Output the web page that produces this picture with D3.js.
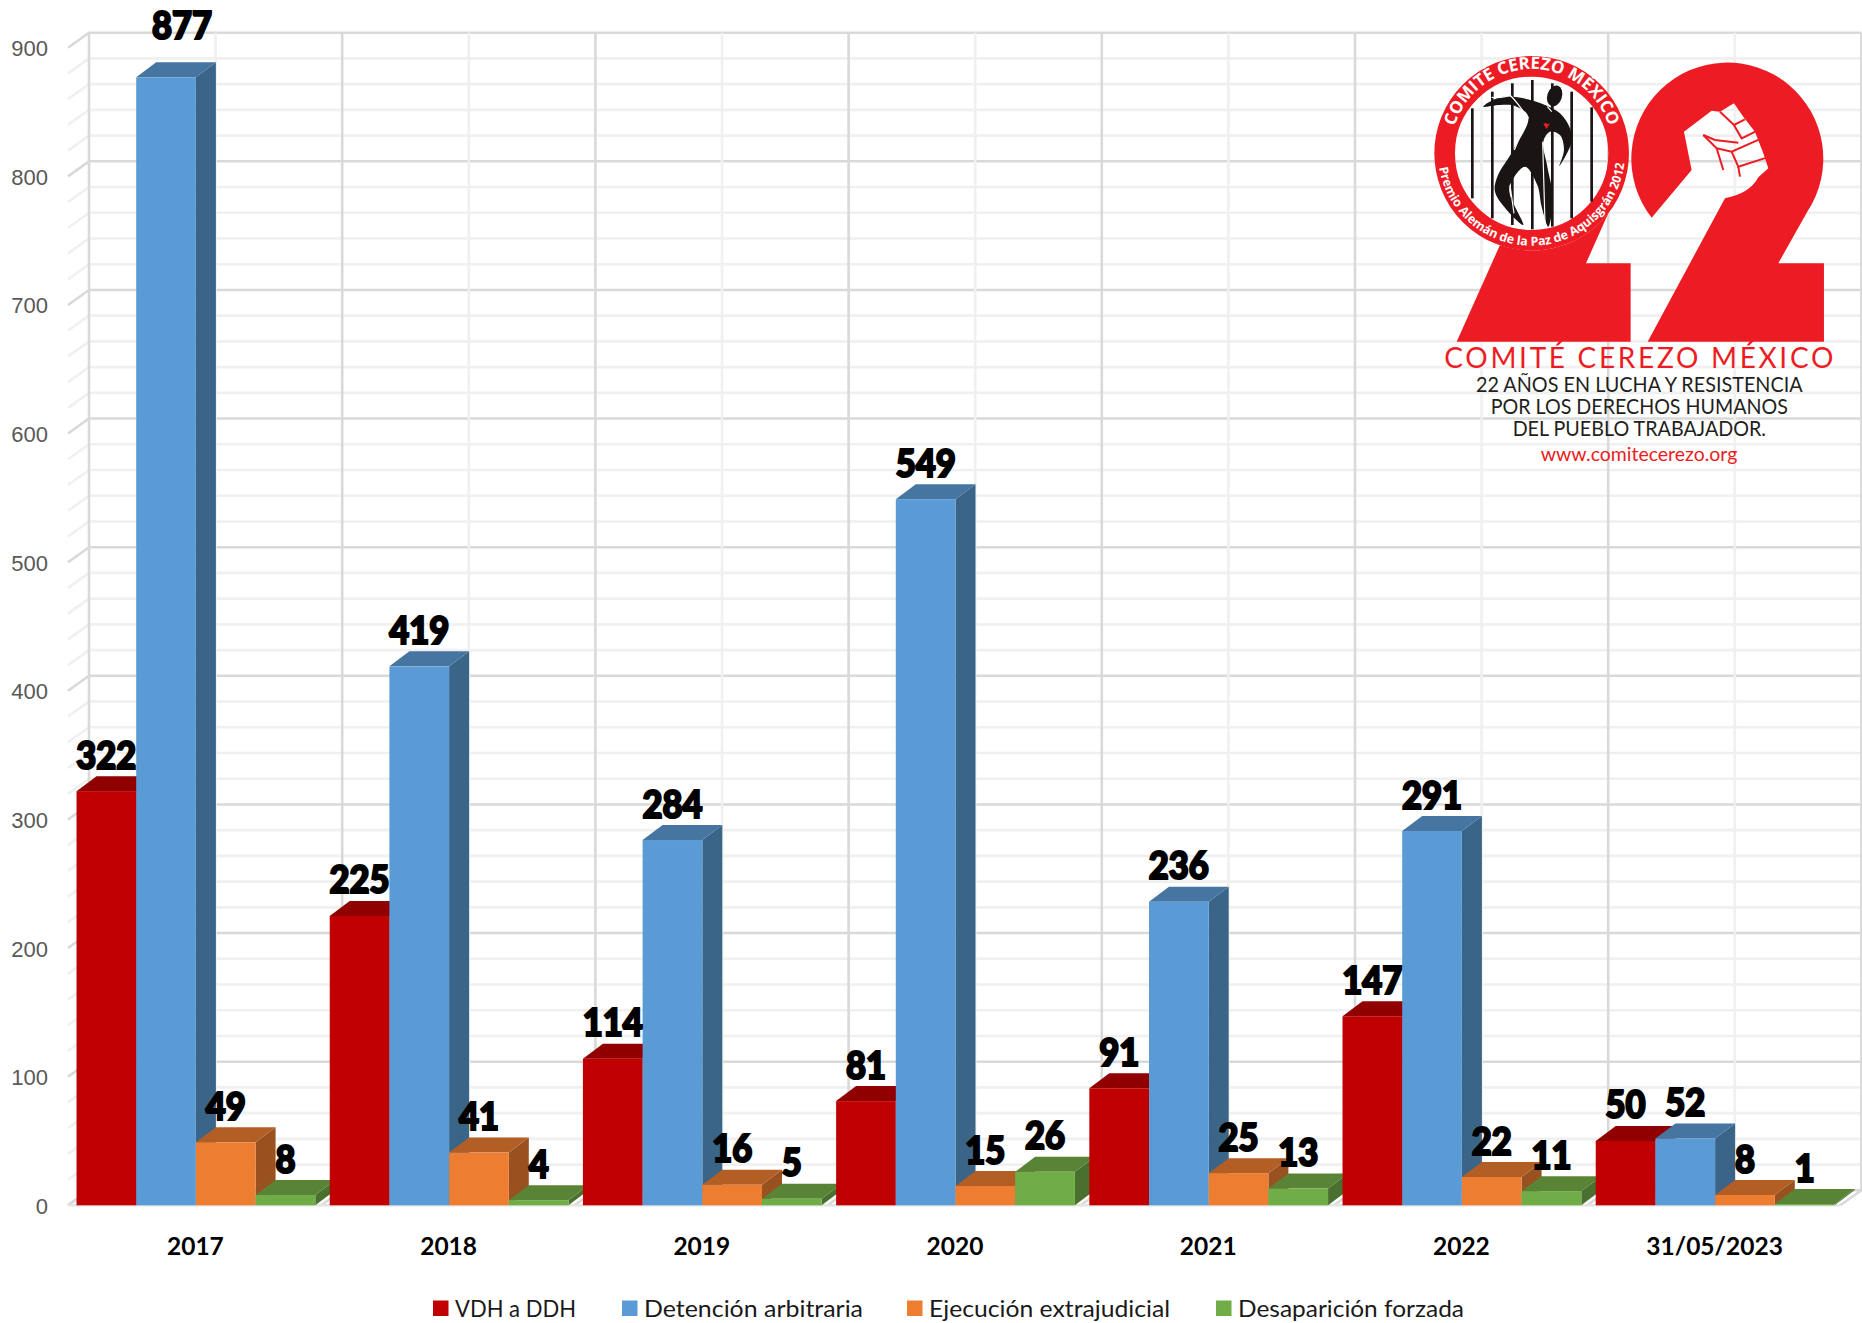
<!DOCTYPE html>
<html>
<head>
<meta charset="utf-8">
<script src="https://cdn.jsdelivr.net/npm/d3@7"></script>
<style>
  body { margin: 0; background: #fff; }
  svg { display: block; }
</style>
</head>
<body>
<div id="chart"></div>
<script>
const categories = ["2017", "2018", "2019", "2020", "2021", "2022", "31/05/2023"];
const seriesNames = ["VDH a DDH", "Detención arbitraria", "Ejecución extrajudicial", "Desaparición forzada"];
const vdh = [322, 225, 114, 81, 91, 147, 50];
const detencion = [877, 419, 284, 549, 236, 291, 52];
const ejecucion = [49, 41, 16, 15, 25, 22, 8];
const desaparicion = [8, 4, 5, 26, 13, 11, 1];
const yTicks = [0, 100, 200, 300, 400, 500, 600, 700, 800, 900];

const width = 1862, height = 1323;
const depthX = 21, depthY = 15; // fake 3d offset of the back wall
const faces = {
  front: ["#c00000", "#5b9bd5", "#ed7d31", "#70ad47"],
  top: ["#900000", "#4575a0", "#b25e25", "#5a8435"],
  side: ["#900000", "#3a6589", "#9a5120", "#4a7030"]
};

const svg = d3.select("#chart").append("svg")
  .attr("width", width)
  .attr("height", height)
  .style("font-family", "Lato, 'Noto Sans', sans-serif");

const x0 = d3.scaleBand().domain(categories).range([69.3, 1841.7]).paddingInner(0.057).paddingOuter(0.0285);
const x1 = d3.scaleBand().domain(d3.range(4)).range([0, x0.bandwidth()]);
const y = d3.scaleLinear().domain([0, 900]).range([1205.3, 47.7]);

// back wall
const wall = svg.append("g").attr("fill", "none").attr("stroke-width", 2.6);
const grid = d3.range(0, 901, 20);
const wallLeft = 68 + depthX, wallRight = 1840.4 + depthX;
const wallLine = v => v % 100 === 0 ? "#d9d9d9" : "#f0f0f0";

wall.selectAll(".hgrid").data(grid).enter().append("path")
  .attr("class", "hgrid")
  .attr("stroke", wallLine)
  .attr("d", v => `M${wallLeft - depthX},${y(v)}L${wallLeft},${y(v) - depthY}L${wallRight},${y(v) - depthY}`);

const step = x0.step();
const verticals = d3.range(0, 15).map(i => i);
wall.selectAll(".vgrid").data(verticals).enter().append("path")
  .attr("class", "vgrid")
  .attr("stroke", i => i % 2 ? "#f0f0f0" : "#d9d9d9")
  .attr("d", i => {
    const xx = wallLeft + i * step / 2;
    return `M${xx},${y(900) - depthY}V${y(0) - depthY}` + (i % 2 ? "" : `L${xx - depthX},${y(0)}`);
  });

wall.append("path").attr("stroke", "#e4e4e4")
  .attr("d", `M${wallLeft - depthX},${y(0)}H${wallRight - depthX}`);

// y axis
const yAxis = svg.append("g")
  .attr("transform", "translate(48,1)")
  .call(d3.axisLeft(y).tickValues(yTicks).tickSize(0).tickPadding(0));
yAxis.select(".domain").remove();
yAxis.selectAll("text").attr("fill", "#595959").style("font-size", "22px");

// bars
const allSeries = [vdh, detencion, ejecucion, desaparicion];
const barData = categories.flatMap((c, g) => allSeries.map((s, i) => ({ c, i, v: s[g] })));
const bars = svg.selectAll(".bar").data(barData).enter().append("g").attr("class", "bar")
  .attr("transform", d => `translate(${x0(d.c) + x1(d.i)},0)`);
const bw = x1.bandwidth();

bars.append("path")
  .attr("fill", d => faces.side[d.i])
  .attr("d", d => `M${bw},${y(d.v)}l${depthX - 1},${-depthY}V${y(0) - depthY}L${bw},${y(0)}Z`);
bars.append("path")
  .attr("fill", d => faces.top[d.i])
  .attr("d", d => `M0,${y(d.v)}l${depthX - 1},${-depthY}h${bw}l${-depthX + 1},${depthY}Z`);
bars.append("rect")
  .attr("width", bw)
  .attr("y", d => y(d.v))
  .attr("height", d => y(0) - y(d.v))
  .attr("fill", d => faces.front[d.i]);

// value labels, the 877 one sits moved off its bar in the original
const labelLayer = svg.append("g");
labelLayer.selectAll("text").data(barData).enter().append("text")
  .attr("x", d => x0(d.c) + x1(d.i) + bw / 2 + (d.v === 877 ? 16 : 0))
  .attr("y", d => y(d.v) - 22.5 - (d.v === 877 ? 16 : 0))
  .attr("text-anchor", "middle")
  .attr("fill", "#000")
  .attr("stroke", "#000")
  .attr("stroke-width", 2.2)
  .attr("textLength", d => String(d.v).length * 20)
  .attr("lengthAdjust", "spacingAndGlyphs")
  .style("font-size", "38px")
  .style("font-weight", 900)
  .text(d => d.v);

// category labels
svg.append("g").selectAll("text").data(categories).enter().append("text")
  .attr("x", d => x0(d) + x0.bandwidth() / 2 - 0.5)
  .attr("y", 1254.5)
  .attr("text-anchor", "middle")
  .attr("fill", "#000")
  .style("font-size", "24.5px")
  .style("font-weight", 700)
  .text(d => d);

// legend
const legendX = [433, 622, 907, 1216];
const legendW = [121, 219, 241, 226];
const legend = svg.append("g").selectAll("g").data(seriesNames).enter().append("g")
  .attr("transform", (d, i) => `translate(${legendX[i]},1300.5)`);
legend.append("rect").attr("width", 15.5).attr("height", 15.5).attr("fill", (d, i) => faces.front[i]);
legend.append("text")
  .attr("x", 22)
  .attr("y", 16.5)
  .attr("fill", "#1a1a1a")
  .attr("textLength", (d, i) => legendW[i])
  .attr("lengthAdjust", "spacingAndGlyphs")
  .style("font-size", "24px")
  .text(d => d);

// logo, drawn in a 3x space
const red = "#ed1c24";
const ink = "#1a1415";
const logo = svg.append("g").attr("transform", "translate(1400,30) scale(0.3333)");
const cx = 395, cy = 370;

logo.append("path").attr("fill", red)
  .attr("d", "M170,935L692,935L692,700L558,700L625,550A290,290 0 0 1 300,645Z");
logo.append("circle").attr("cx", cx).attr("cy", cy).attr("r", 261)
  .attr("fill", "none").attr("stroke", red).attr("stroke-width", 62);

// second 2 with the fist cut out of it
logo.append("path").attr("fill", red)
  .attr("d", "M1272,935L1272,700L1135,700L1222,545A288,288 0 1 0 755,563L875,420L852,305L935,242L960,245L1002,220L1030,260L1065,305L1090,370L1105,415L1075,442Q1050,490 975,505L743,935Z");
logo.append("g").attr("fill", "none").attr("stroke", red).attr("stroke-width", 6)
  .selectAll("path")
  .data([
    "M960,245L1002,285L1035,268",
    "M1002,285L1025,325L1066,305",
    "M910,315L945,330L1015,338",
    "M910,315L950,355L970,420",
    "M950,355L995,365L1085,325",
    "M995,365L1015,410L1100,383",
    "M1015,410L1020,440"
  ])
  .enter().append("path").attr("d", d => d);

// figure behind the bars
const fig = logo.append("g").attr("transform", "translate(180,120)");
const outline = [[70, 110], [120, 82], [190, 85], [255, 105], [300, 130], [330, 175], [335, 215], [298, 288],
  [312, 240], [300, 195], [270, 185], [250, 215], [262, 290], [278, 380], [265, 470], [245, 410], [232, 345],
  [195, 290], [150, 345], [150, 375], [190, 465], [145, 425], [105, 365], [112, 320], [160, 240], [205, 140], [165, 108], [120, 105]];
fig.append("path").attr("fill", ink)
  .attr("d", d3.line().curve(d3.curveCatmullRomClosed.alpha(0.5))(outline));
fig.append("ellipse").attr("cx", 284).attr("cy", 78).attr("rx", 22).attr("ry", 32)
  .attr("transform", "rotate(18 284 78)").attr("fill", ink);
fig.append("path").attr("fill", red).attr("d", "M260,177L250,162L258,158L262,163L270,160Z");
fig.selectAll("rect").data([[37, 115, 385], [97, 65, 445], [157, 40, 465], [217, 30, 478], [277, 40, 470], [335, 65, 445], [395, 112, 395]])
  .enter().append("rect")
  .attr("x", d => d[0] - 4).attr("width", 8)
  .attr("y", d => d[1]).attr("height", d => d[2] - d[1])
  .attr("fill", ink);
// white slits where the bars cross the body
fig.append("g").attr("fill", "none").attr("stroke", "#fff").attr("stroke-width", 3.5)
  .selectAll("path")
  .data(["M95,82Q130,85 150,75", "M150,75Q175,100 200,140", "M205,140L163,240", "M150,345L162,430", "M248,215L255,460", "M262,110L275,125"])
  .enter().append("path").attr("d", d => d);

// ring text
logo.append("path").attr("id", "ringTop").attr("fill", "none")
  .attr("d", `M${cx - 241},${cy - 12}A241,241 0 0 1 ${cx + 241},${cy - 12}`);
logo.append("path").attr("id", "ringBottom").attr("fill", "none")
  .attr("d", `M${cx - 279},${cy + 36}A281,281 0 0 0 ${cx + 279},${cy + 22}`);
logo.append("text").attr("fill", "#fff")
  .style("font-size", "51px").style("font-weight", 700).style("font-family", "'Open Sans', sans-serif")
  .append("textPath").attr("href", "#ringTop").attr("startOffset", "50%").attr("text-anchor", "middle")
  .text("COMITÉ CEREZO MÉXICO");
logo.append("text").attr("fill", "#fff")
  .style("font-size", "37px").style("font-weight", 700).style("font-family", "'Open Sans', sans-serif")
  .append("textPath").attr("href", "#ringBottom").attr("startOffset", "50%").attr("text-anchor", "middle")
  .text("Premio Alemán de la Paz de Aquisgrán 2012");

// lines under the 22
const logoLines = [
  { t: "COMITÉ CEREZO MÉXICO", x: 133, w: 1167, y: 1015, s: 84, c: red },
  { t: "22 AÑOS EN LUCHA Y RESISTENCIA", x: 228, w: 980, y: 1085, s: 63, c: "#231f20" },
  { t: "POR LOS DERECHOS HUMANOS", x: 272, w: 892, y: 1152, s: 63, c: "#231f20" },
  { t: "DEL PUEBLO TRABAJADOR.", x: 338, w: 760, y: 1218, s: 63, c: "#231f20" },
  { t: "www.comitecerezo.org", x: 422, w: 590, y: 1293, s: 58, c: red }
];
logo.selectAll(".line").data(logoLines).enter().append("text")
  .attr("class", "line")
  .attr("x", d => d.x)
  .attr("y", d => d.y)
  .attr("fill", d => d.c)
  .attr("textLength", d => d.w)
  .attr("lengthAdjust", d => d.s === 84 ? "spacing" : "spacingAndGlyphs")
  .style("font-size", d => d.s + "px")
  .style("font-family", "Lato, sans-serif")
  .text(d => d.t);
</script>
</body>
</html>
